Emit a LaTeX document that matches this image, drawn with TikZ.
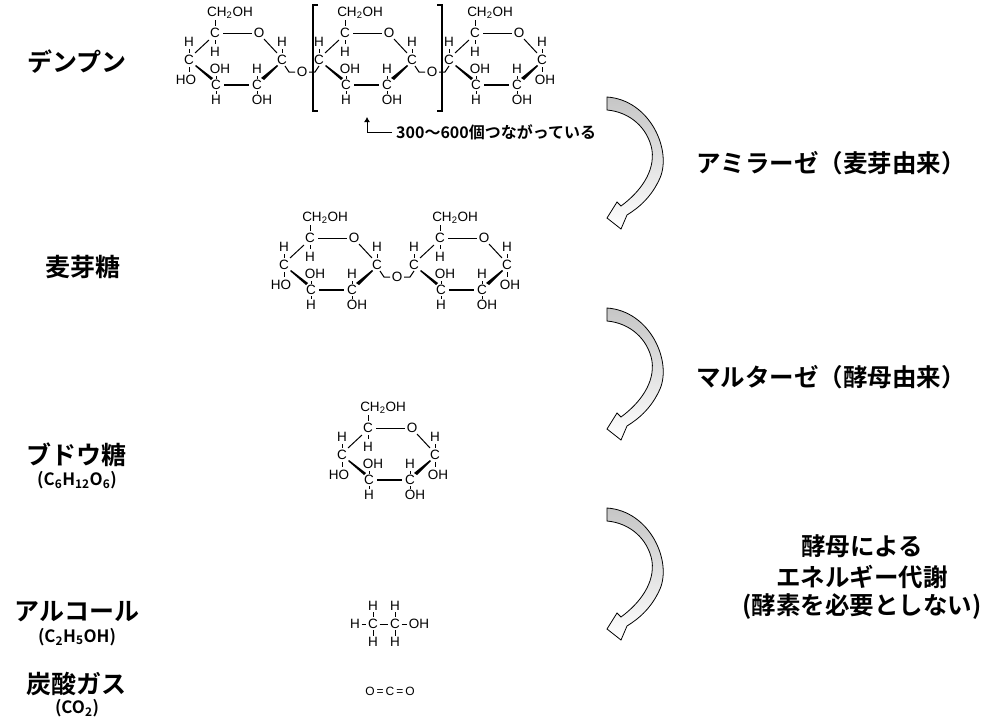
\documentclass[tikz,border=0pt]{standalone}
\usepackage{fontspec}
\usetikzlibrary{arrows.meta}
\setmainfont{Liberation Sans}
\newfontfamily\jp{Noto Sans CJK JP Bold}
\begin{document}
\begin{tikzpicture}[x=1pt,y=-1pt,
  atm/.style={inner sep=0pt,font=\fontsize{13.5}{14}\selectfont},
  bd/.style={line width=1pt},
  lab/.style={font=\jp\fontsize{25}{28}\selectfont,inner sep=0pt},
  sub/.style={font=\jp\fontsize{17}{19}\selectfont,inner sep=0pt},
  rlab/.style={font=\jp\fontsize{24.5}{27}\selectfont,inner sep=0pt,align=center},
  carr/.style={draw=black,line width=0.8pt,top color=gray!45,bottom color=white}]
\useasboundingbox (0,0) rectangle (999,728);
\newcommand\glu[4]{%
\begin{scope}[shift={(#1,#2)}]
\node[atm] (c5) at (0,0) {C};
\node[atm] (ch) at (15,-20) {CH\textsubscript{2}OH};
\draw[bd] (0,-13) -- (0,-7);
\node[atm] (h5) at (0,19) {H};
\draw[bd] (0,7) -- (0,11);
\node[atm] (o) at (44,0) {O};
\draw[bd] (8,0) -- (37,0);
\draw[bd] (49,6) -- (62,20);
\node[atm] (c1) at (67,27) {C};
\node[atm] (h1) at (67,9) {H};
\draw[bd] (67,16) -- (67,20);
\ifnum#4=1 \node[atm] at (70,47) {OH}; \draw[bd] (67,34) -- (67,39); \fi
\node[atm] (c4) at (-26,27) {C};
\node[atm] (h4) at (-26,9) {H};
\draw[bd] (-26,16) -- (-26,20);
\ifnum#3=1 \node[atm] at (-29,47) {HO}; \draw[bd] (-26,34) -- (-26,39); \fi
\draw[bd] (-6,7) -- (-20,20);
\fill (-20,33) -- (-4,47) -- (-2,45) -- (-19,32) -- cycle;
\node[atm] (c3) at (1,52) {C};
\node[atm] at (5,36) {OH};
\draw[bd] (1,43) -- (1,46);
\node[atm] at (1,67) {H};
\draw[bd] (1,58) -- (1,61);
\draw[line width=2.8pt] (9,52) -- (34,52);
\node[atm] (c2) at (42,52) {C};
\node[atm] at (42,36) {H};
\draw[bd] (42,43) -- (42,46);
\node[atm] at (47,67) {OH};
\draw[bd] (42,58) -- (42,61);
\fill (46,45) -- (49,47) -- (63,33) -- (62,32) -- cycle;
\end{scope}}
\newcommand\link[2]{%
\begin{scope}[shift={(#1,#2)}]
\draw[bd] (70,33) -- (74,39) -- (80,39);
\node[atm] at (87,39) {O};
\draw[bd] (94,39) -- (100,39) -- (104,33);
\end{scope}}
% starch
\glu{215}{33}{1}{0}\link{215}{33}
\glu{345}{33}{0}{0}\link{345}{33}
\glu{475}{33}{0}{1}
\draw[line width=1.2pt] (318,5) -- (313,5) -- (313,111) -- (318,111);
\draw[line width=1.2pt] (437,5) -- (442,5) -- (442,111) -- (437,111);
\coordinate (ac) at (367,132);
\draw[line width=1pt,-{Latex[length=5pt,width=6pt]}] (392,132) -- (ac) -- (367,117);
\node[anchor=west,inner sep=0pt,font=\jp\fontsize{16}{18}\selectfont] (note) at (396,132) {300〜600個つながっている};
% maltose
\glu{310}{238}{1}{0}\link{310}{238}
\glu{440}{238}{0}{1}
% glucose
\glu{368}{428}{1}{1}
% ethanol
\node[atm] (e1) at (373,606) {H};
\node[atm] (e2) at (395,606) {H};
\node[atm] (e3) at (355,624) {H};
\node[atm] (e4) at (373,624) {C};
\node[atm] (e5) at (395,624) {C};
\node[atm] (e6) at (419,624) {OH};
\node[atm] (e7) at (373,642) {H};
\node[atm] (e8) at (395,642) {H};
\draw[bd] ([xshift=1.5pt]e3.east) -- ([xshift=-1.5pt]e4.west);
\draw[bd] ([xshift=1.5pt]e4.east) -- ([xshift=-1.5pt]e5.west);
\draw[bd] ([xshift=1.5pt]e5.east) -- ([xshift=-1.5pt]e6.west);
\draw[bd] (e1) ++(0,6) -- ++(0,5); \draw[bd] (e2) ++(0,6) -- ++(0,5);
\draw[bd] (e4) ++(0,6) -- ++(0,6); \draw[bd] (e5) ++(0,6) -- ++(0,6);
\node[inner sep=0pt,font=\fontsize{12}{13}\selectfont] (co2) at (390,691) {O\,=\,C\,=\,O};
% left labels
\node[lab] (l1) at (77,62) {デンプン};
\node[lab] (l2) at (83,267) {麦芽糖};
\node[lab] (l3) at (77,455) {ブドウ糖};
\node[sub] (s3) at (77,480) {(C\textsubscript{6}H\textsubscript{12}O\textsubscript{6})};
\node[lab] (l4) at (77,612) {アルコール};
\node[sub] (s4) at (77,637) {(C\textsubscript{2}H\textsubscript{5}OH)};
\node[lab] (l5) at (77,684) {炭酸ガス};
\node[sub] (s5) at (77,708) {(CO\textsubscript{2})};
% right labels
\node[rlab] (r1) at (831,163) {アミラーゼ（麦芽由来）};
\node[rlab] (r2) at (831,377) {マルターゼ（酵母由来）};
\node[rlab] (r3a) at (862,546) {酵母による};
\node[rlab] (r3b) at (862,577) {エネルギー代謝};
\node[rlab] (r3c) at (862,607) {(酵素を必要としない)};
% curved arrows
\foreach \dy in {0,211,411}{
\begin{scope}[yshift=-\dy pt]
\draw[carr] (607,97) .. controls (650,100) and (672,150) .. (660,178)
  .. controls (652,196) and (640,207) .. (627,215)
  -- (621,229) -- (607,218) -- (617,202) -- (621,206)
  .. controls (640,192) and (655,172) .. (652,150)
  .. controls (648,128) and (630,112) .. (607,110) -- cycle;
\end{scope}}
\end{tikzpicture}
\end{document}
